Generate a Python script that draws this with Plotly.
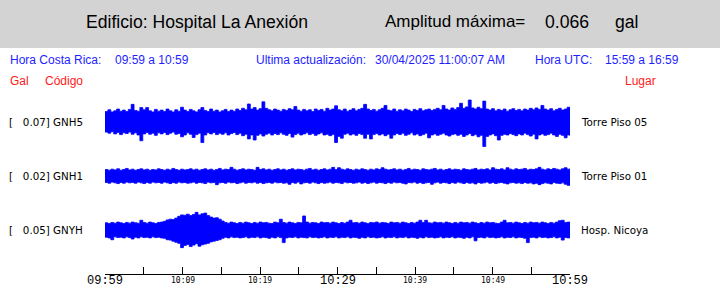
import plotly.graph_objects as go

# ---------------- data ----------------
sample_step_min = 0.375         # one envelope sample every 0.375 min
n_samples = 161                 # 09:59 .. 10:59
t_min = [i * sample_step_min for i in range(n_samples)]

# GNH5 (Torre Piso 05) envelope, gal
gnh5_upper = [
    0.029, 0.034, 0.028, 0.031, 0.036, 0.030, 0.033, 0.029, 0.035, 0.049,
    0.032, 0.030, 0.040, 0.034, 0.040, 0.031, 0.028, 0.035, 0.030, 0.033,
    0.029, 0.036, 0.031, 0.028, 0.034, 0.030, 0.041, 0.033, 0.029, 0.035,
    0.031, 0.028, 0.034, 0.040, 0.032, 0.029, 0.036, 0.030, 0.033, 0.028,
    0.031, 0.035, 0.029, 0.033, 0.030, 0.036, 0.032, 0.038, 0.034, 0.050,
    0.036, 0.040, 0.033, 0.037, 0.056, 0.038, 0.034, 0.031, 0.036, 0.033,
    0.030, 0.035, 0.032, 0.037, 0.034, 0.043, 0.033, 0.030, 0.035, 0.031,
    0.034, 0.029, 0.036, 0.032, 0.035, 0.030, 0.038, 0.033, 0.036, 0.045,
    0.034, 0.031, 0.036, 0.030, 0.033, 0.037, 0.031, 0.035, 0.038, 0.049,
    0.036, 0.032, 0.035, 0.030, 0.034, 0.038, 0.046, 0.033, 0.031, 0.036,
    0.030, 0.034, 0.031, 0.036, 0.033, 0.029, 0.035, 0.032, 0.037, 0.031,
    0.034, 0.036, 0.032, 0.035, 0.038, 0.034, 0.046, 0.036, 0.033, 0.039,
    0.035, 0.040, 0.052, 0.038, 0.042, 0.061, 0.039, 0.036, 0.041, 0.037,
    0.058, 0.036, 0.033, 0.037, 0.031, 0.035, 0.032, 0.036, 0.030, 0.034,
    0.037, 0.032, 0.035, 0.031, 0.036, 0.033, 0.038, 0.034, 0.039, 0.035,
    0.046, 0.036, 0.033, 0.037, 0.031, 0.035, 0.038, 0.033, 0.036, 0.041,
    0.035]
gnh5_lower = [
    -0.028, -0.031, -0.027, -0.033, -0.029, -0.035, -0.030, -0.032, -0.028, -0.034,
    -0.030, -0.036, -0.052, -0.033, -0.029, -0.034, -0.031, -0.037, -0.030, -0.033,
    -0.029, -0.035, -0.031, -0.028, -0.034, -0.032, -0.041, -0.036, -0.030, -0.034,
    -0.043, -0.035, -0.031, -0.057, -0.036, -0.030, -0.033, -0.029, -0.035, -0.031,
    -0.034, -0.030, -0.036, -0.032, -0.029, -0.035, -0.031, -0.038, -0.034, -0.047,
    -0.036, -0.050, -0.037, -0.033, -0.039, -0.034, -0.031, -0.036, -0.032, -0.035,
    -0.030, -0.034, -0.037, -0.032, -0.042, -0.035, -0.031, -0.036, -0.033, -0.030,
    -0.035, -0.032, -0.037, -0.033, -0.030, -0.036, -0.034, -0.038, -0.035, -0.057,
    -0.040, -0.045, -0.034, -0.031, -0.036, -0.033, -0.037, -0.032, -0.035, -0.045,
    -0.034, -0.047, -0.035, -0.032, -0.036, -0.033, -0.038, -0.034, -0.045, -0.036,
    -0.032, -0.035, -0.031, -0.037, -0.034, -0.030, -0.036, -0.033, -0.038, -0.035,
    -0.031, -0.044, -0.036, -0.033, -0.037, -0.034, -0.031, -0.036, -0.039, -0.035,
    -0.033, -0.037, -0.034, -0.040, -0.036, -0.032, -0.038, -0.035, -0.041, -0.037,
    -0.068, -0.040, -0.036, -0.033, -0.038, -0.050, -0.037, -0.034, -0.036, -0.032,
    -0.035, -0.038, -0.033, -0.036, -0.031, -0.035, -0.039, -0.034, -0.047, -0.036,
    -0.033, -0.037, -0.035, -0.031, -0.036, -0.040, -0.034, -0.037, -0.044, -0.036,
    -0.038]

# GNH1 (Torre Piso 01) envelope, gal
gnh1_upper = [
    0.018, 0.016, 0.019, 0.017, 0.020, 0.016, 0.018, 0.021, 0.017, 0.019,
    0.016, 0.018, 0.020, 0.017, 0.019, 0.016, 0.018, 0.017, 0.020, 0.018,
    0.016, 0.019, 0.017, 0.021, 0.018, 0.016, 0.019, 0.017, 0.018, 0.020,
    0.017, 0.019, 0.016, 0.018, 0.020, 0.017, 0.019, 0.016, 0.018, 0.021,
    0.017, 0.019, 0.018, 0.024, 0.019, 0.016, 0.018, 0.020, 0.017, 0.019,
    0.018, 0.016, 0.024, 0.018, 0.020, 0.017, 0.019, 0.016, 0.018, 0.020,
    0.017, 0.019, 0.016, 0.018, 0.020, 0.017, 0.019, 0.018, 0.016, 0.019,
    0.021, 0.017, 0.019, 0.016, 0.018, 0.020, 0.017, 0.019, 0.024, 0.018,
    0.023, 0.019, 0.017, 0.020, 0.018, 0.016, 0.019, 0.017, 0.020, 0.018,
    0.016, 0.019, 0.017, 0.020, 0.018, 0.023, 0.019, 0.017, 0.018, 0.020,
    0.017, 0.019, 0.016, 0.018, 0.021, 0.017, 0.019, 0.018, 0.016, 0.020,
    0.018, 0.017, 0.019, 0.021, 0.017, 0.019, 0.016, 0.018, 0.020, 0.017,
    0.019, 0.018, 0.016, 0.020, 0.018, 0.017, 0.019, 0.021, 0.017, 0.019,
    0.018, 0.020, 0.017, 0.023, 0.019, 0.018, 0.020, 0.017, 0.023, 0.019,
    0.017, 0.020, 0.018, 0.019, 0.021, 0.017, 0.019, 0.018, 0.020, 0.024,
    0.019, 0.017, 0.020, 0.018, 0.021, 0.019, 0.017, 0.020, 0.023, 0.019,
    0.021]
gnh1_lower = [
    -0.018, -0.020, -0.017, -0.019, -0.021, -0.018, -0.020, -0.017, -0.019, -0.018,
    -0.020, -0.017, -0.019, -0.021, -0.018, -0.020, -0.017, -0.019, -0.018, -0.020,
    -0.017, -0.019, -0.021, -0.018, -0.020, -0.017, -0.019, -0.018, -0.020, -0.019,
    -0.017, -0.020, -0.018, -0.019, -0.021, -0.017, -0.019, -0.018, -0.024, -0.019,
    -0.018, -0.020, -0.017, -0.019, -0.018, -0.021, -0.019, -0.017, -0.020, -0.018,
    -0.019, -0.017, -0.020, -0.018, -0.021, -0.019, -0.018, -0.020, -0.017, -0.019,
    -0.018, -0.020, -0.019, -0.023, -0.018, -0.020, -0.017, -0.022, -0.019, -0.018,
    -0.020, -0.017, -0.019, -0.021, -0.018, -0.020, -0.019, -0.017, -0.020, -0.018,
    -0.019, -0.021, -0.017, -0.019, -0.018, -0.020, -0.019, -0.017, -0.020, -0.018,
    -0.021, -0.019, -0.017, -0.020, -0.018, -0.019, -0.021, -0.018, -0.020, -0.017,
    -0.019, -0.018, -0.020, -0.022, -0.018, -0.019, -0.017, -0.020, -0.018, -0.021,
    -0.019, -0.018, -0.023, -0.019, -0.017, -0.020, -0.018, -0.019, -0.021, -0.018,
    -0.020, -0.017, -0.019, -0.021, -0.018, -0.020, -0.019, -0.022, -0.018, -0.020,
    -0.019, -0.017, -0.020, -0.018, -0.021, -0.019, -0.018, -0.020, -0.022, -0.019,
    -0.018, -0.020, -0.019, -0.021, -0.018, -0.020, -0.019, -0.022, -0.020, -0.024,
    -0.021, -0.019, -0.020, -0.022, -0.018, -0.020, -0.021, -0.019, -0.023, -0.026,
    -0.021]

# GNYH (Hosp. Nicoya) envelope, gal
gnyh_upper = [
    0.020, 0.018, 0.021, 0.019, 0.022, 0.020, 0.018, 0.021, 0.019, 0.022,
    0.020, 0.019, 0.027, 0.021, 0.019, 0.022, 0.020, 0.018, 0.021, 0.022,
    0.024, 0.028, 0.030, 0.029, 0.033, 0.038, 0.042, 0.041, 0.044, 0.040,
    0.043, 0.049, 0.042, 0.045, 0.047, 0.040, 0.036, 0.033, 0.034, 0.030,
    0.025, 0.021, 0.019, 0.022, 0.020, 0.018, 0.021, 0.019, 0.022, 0.020,
    0.018, 0.021, 0.019, 0.022, 0.020, 0.021, 0.019, 0.018, 0.022, 0.020,
    0.030, 0.021, 0.019, 0.022, 0.020, 0.018, 0.021, 0.020, 0.039, 0.022,
    0.019, 0.021, 0.020, 0.018, 0.022, 0.020, 0.021, 0.019, 0.022, 0.020,
    0.018, 0.021, 0.019, 0.022, 0.027, 0.020, 0.021, 0.019, 0.022, 0.020,
    0.018, 0.021, 0.020, 0.022, 0.019, 0.021, 0.020, 0.018, 0.022, 0.020,
    0.021, 0.019, 0.022, 0.020, 0.018, 0.021, 0.019, 0.022, 0.027, 0.021,
    0.027, 0.020, 0.019, 0.022, 0.020, 0.021, 0.019, 0.022, 0.020, 0.018,
    0.021, 0.019, 0.022, 0.020, 0.021, 0.019, 0.022, 0.020, 0.018, 0.021,
    0.019, 0.022, 0.020, 0.021, 0.019, 0.018, 0.022, 0.027, 0.020, 0.021,
    0.019, 0.022, 0.020, 0.018, 0.021, 0.019, 0.022, 0.020, 0.021, 0.019,
    0.022, 0.020, 0.018, 0.021, 0.019, 0.022, 0.026, 0.027, 0.021, 0.022,
    0.020]
gnyh_lower = [
    -0.020, -0.022, -0.027, -0.019, -0.021, -0.020, -0.022, -0.019, -0.021, -0.025,
    -0.020, -0.022, -0.019, -0.021, -0.020, -0.022, -0.019, -0.021, -0.020, -0.022,
    -0.023, -0.027, -0.028, -0.031, -0.034, -0.037, -0.049, -0.043, -0.040, -0.046,
    -0.042, -0.038, -0.045, -0.041, -0.039, -0.037, -0.033, -0.031, -0.029, -0.027,
    -0.023, -0.020, -0.022, -0.019, -0.021, -0.020, -0.022, -0.021, -0.019, -0.022,
    -0.020, -0.021, -0.019, -0.022, -0.020, -0.021, -0.023, -0.020, -0.022, -0.019,
    -0.021, -0.035, -0.022, -0.020, -0.021, -0.019, -0.022, -0.020, -0.021, -0.022,
    -0.019, -0.021, -0.020, -0.022, -0.021, -0.019, -0.022, -0.020, -0.021, -0.019,
    -0.022, -0.020, -0.021, -0.019, -0.022, -0.020, -0.021, -0.023, -0.020, -0.022,
    -0.019, -0.021, -0.020, -0.022, -0.021, -0.019, -0.022, -0.020, -0.021, -0.019,
    -0.022, -0.020, -0.021, -0.019, -0.022, -0.020, -0.021, -0.023, -0.020, -0.022,
    -0.019, -0.021, -0.020, -0.022, -0.021, -0.019, -0.022, -0.020, -0.021, -0.019,
    -0.022, -0.020, -0.021, -0.023, -0.020, -0.022, -0.019, -0.030, -0.021, -0.020,
    -0.022, -0.019, -0.021, -0.020, -0.022, -0.021, -0.019, -0.022, -0.020, -0.021,
    -0.019, -0.022, -0.020, -0.021, -0.023, -0.035, -0.021, -0.020, -0.022, -0.019,
    -0.021, -0.020, -0.022, -0.021, -0.019, -0.022, -0.020, -0.028, -0.021, -0.022,
    -0.020]

station_codes = ["GNH5", "GNH1", "GNYH"]
station_peaks = ["0.07", "0.02", "0.05"]
station_places = ["Torre Piso 05", "Torre Piso 01", "Hosp. Nicoya"]

tick_minutes = [0, 5, 10, 15, 20, 25, 30, 35, 40, 45, 50, 55, 60]
label_minutes = [0, 10, 20, 30, 40, 50, 60]
label_texts = ["09:59", "10:09", "10:19", "10:29", "10:39", "10:49", "10:59"]
label_big = [True, False, False, True, False, False, True]

building = "Edificio: Hospital La Anexión"
max_amp = "0.066"
amp_unit = "gal"
local_range = "09:59 a 10:59"
update_stamp = "30/04/2025 11:00:07 AM"
utc_range = "15:59 a 16:59"

# ---------------- figure ----------------
W, H = 720, 288
def py(px):
    return 1 - px / H
def px_(x):
    return x / W

BLUE = "#0000ff"
TXTBLUE = "#1e1eff"
RED = "#ff1a1a"

fig = go.Figure()

uppers = [gnh5_upper, gnh1_upper, gnyh_upper]
lowers = [gnh5_lower, gnh1_lower, gnyh_lower]
yaxes = ["y", "y2", "y3"]
for up, lo, ya in zip(uppers, lowers, yaxes):
    fig.add_trace(go.Scatter(x=t_min, y=lo, mode="lines", xaxis="x", yaxis=ya,
                             line=dict(color=BLUE, width=0.8, shape="hv"),
                             showlegend=False, hoverinfo="skip"))
    fig.add_trace(go.Scatter(x=t_min, y=up, mode="lines", xaxis="x", yaxis=ya,
                             line=dict(color=BLUE, width=0.8, shape="hv"),
                             fill="tonexty", fillcolor=BLUE,
                             showlegend=False, hoverinfo="skip"))

yr = [-0.075, 0.075]
row_tops = [95, 149, 203]
row_h = 54
layout_y = {}
for i, top in enumerate(row_tops):
    key = "yaxis" if i == 0 else f"yaxis{i+1}"
    layout_y[key] = dict(domain=[py(top + row_h), py(top)], range=yr, visible=False,
                         anchor="x", fixedrange=True)

fig.update_layout(
    width=W, height=H, margin=dict(l=0, r=0, t=0, b=0),
    paper_bgcolor="white", plot_bgcolor="white",
    xaxis=dict(domain=[px_(105), px_(570)], range=[0, 60], anchor="free",
               position=py(274), showline=True, linecolor="black", linewidth=1,
               ticks="inside", ticklen=7, tickwidth=1, tickcolor="black",
               tickvals=tick_minutes, showticklabels=False, showgrid=False,
               zeroline=False, fixedrange=True),
    **layout_y,
)

fig.add_shape(type="rect", xref="paper", yref="paper", x0=0, x1=1, y0=py(48), y1=1,
              fillcolor="#d3d3d3", line=dict(width=0), layer="below")

ann = []
def text(x, y, s, size, color="black", family="Liberation Sans", xanchor="left", xref="paper"):
    ann.append(dict(x=x, y=y, xref=xref, yref="paper", text=s, showarrow=False,
                    xanchor=xanchor, yanchor="middle", borderpad=0,
                    font=dict(size=size, color=color, family=family)))

# header
text(px_(85), py(22), building, 17.6)
text(px_(384), py(22), "Amplitud máxima=", 17)
text(px_(544), py(22), max_amp, 17.6)
text(px_(614), py(22), amp_unit, 17.6)

# info row
text(px_(9), py(60), "Hora Costa Rica:", 12, TXTBLUE)
text(px_(114), py(60), local_range, 12, TXTBLUE)
text(px_(255), py(60), "Ultima actualización:", 12, TXTBLUE)
text(px_(374), py(60), update_stamp, 12, TXTBLUE)
text(px_(534), py(60), "Hora UTC:", 12, TXTBLUE)
text(px_(604), py(60), utc_range, 12, TXTBLUE)

text(px_(9), py(81), "Gal", 12, RED)
text(px_(44), py(81), "Código", 12, RED)
text(px_(624), py(81), "Lugar", 12, RED)

# station labels
centers = [122, 176, 230]
nb = "\u00a0"
for c, code, pk, place in zip(centers, station_codes, station_peaks, station_places):
    text(px_(8), py(c), f"[{nb*3}{pk}]{nb}{code}", 10.3, family="DejaVu Sans")
    text(px_(580), py(c), place, 10.3, family="DejaVu Sans")

# time labels
for m, s, big in zip(label_minutes, label_texts, label_big):
    if big:
        text(m, py(281), s, 12, family="Liberation Mono", xanchor="center", xref="x")
    else:
        text(m, py(280), s, 8, family="DejaVu Sans Mono", xanchor="center", xref="x")

fig.update_layout(annotations=ann)
fig.write_html("out.html")
